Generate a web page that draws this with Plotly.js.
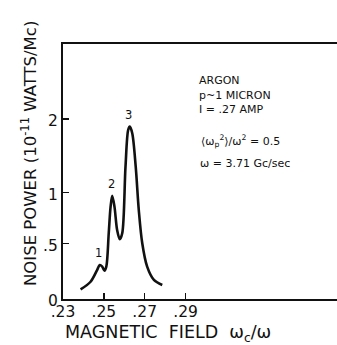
<!DOCTYPE html>
<html><head><meta charset="utf-8">
<script src="https://cdn.plot.ly/plotly-3.0.1.min.js"></script>
<style>html,body{margin:0;padding:0;overflow:hidden;background:#fff;width:337px;height:345px}</style>
</head><body><div id="chart"></div>
<script>
// Magnetic field ratio wc/w (abscissa)
const fieldRatio = [0.2386,0.2435,0.2467,0.2480,0.2492,0.2503,0.2512,0.2524,0.2533,0.2541,0.2552,0.2565,0.2578,0.2590,0.2606,0.2619,0.2627,0.2639,0.2656,0.2671,0.2688,0.2712,0.2745,0.2786];
// Noise power (10^-11 W/Mc)
const noisePower = [0.087,0.155,0.26,0.305,0.29,0.254,0.29,0.602,0.862,0.970,0.862,0.631,0.54,0.599,1.353,1.851,1.896,1.806,1.353,0.829,0.5,0.29,0.171,0.126];

const xTickVals = [0.23,0.25,0.27,0.29];
const xTickText = ['.23','.25','.27','.29'];
const yTickVals = [0,0.5,1,2];
const yTickText = ['0','.5','1','2'];

const xTitle = 'MAGNETIC  FIELD  ω<sub>c</sub>/ω';
const yTitle = 'NOISE POWER (10<sup>-11</sup> WATTS/Mc)';

// peaks labelled 1,2,3 (indices into the series)
const peakNames = ['1','2','3'];
const peakIdx = [3,9,16];

const infoLines = [
  'ARGON',
  'p~1 MICRON',
  'I = .27 AMP',
  '⟨ω<sub>p</sub><sup>2</sup>⟩/ω<sup>2</sup> = 0.5',
  'ω = 3.71 Gc/sec'
];

// The original ordinate is non-uniform: calibration of value -> axis units
const yScaleKnots = [0,0.5,1,2];
const yScalePos = [0,55.7,106.3,180];
function yScale(v){
  for (let i=1;i<yScaleKnots.length;i++){
    if (v<=yScaleKnots[i] || i===yScaleKnots.length-1){
      const a=yScaleKnots[i-1], b=yScaleKnots[i];
      return yScalePos[i-1]+(v-a)/(b-a)*(yScalePos[i]-yScalePos[i-1]);
    }
  }
}

const FONT = 'DejaVu Sans, sans-serif';
const W = 360, H = 345;
const mL = 63, mT = 44, mB = 46;
const plotW = W - mL, plotH = H - mT - mB;
const pxPerUnitX = 40.85/0.02;
const px2paperX = px => (px - mL)/plotW;
const px2paperY = py => (H - mB - py)/plotH;

const trace = {
  x: fieldRatio,
  y: noisePower.map(yScale),
  type: 'scatter', mode: 'lines',
  line: {color: '#111', width: 2.6, shape: 'spline', smoothing: 0.9},
  hoverinfo: 'skip'
};

const annotations = peakIdx.map((k,i)=>({
  x: fieldRatio[k], y: yScale(noisePower[k]), xref:'x', yref:'y',
  text: peakNames[i], showarrow:false, yanchor:'bottom', yshift: 3, xshift: -1,
  font:{family:FONT, size:11.5, color:'#111'}
}));

const infoY = [80.7, 95.3, 110, 140.5, 163];
const infoX = [197, 197, 197, 199, 198];
infoLines.forEach((t,i)=>{
  annotations.push({
    xref:'paper', yref:'paper',
    x:px2paperX(infoX[i]), y:px2paperY(infoY[i]),
    xanchor:'left', yanchor:'middle', showarrow:false,
    text:t, font:{family:FONT, size:11, color:'#111'}
  });
});

// axis titles placed as in the original
annotations.push({
  xref:'paper', yref:'paper', x:px2paperX(168), y:px2paperY(333),
  xanchor:'center', yanchor:'middle', showarrow:false,
  text:xTitle, font:{family:FONT, size:17.5, color:'#111'}
});
annotations.push({
  xref:'paper', yref:'paper', x:px2paperX(29), y:px2paperY(154),
  xanchor:'center', yanchor:'middle', showarrow:false, textangle:-90,
  text:yTitle, font:{family:FONT, size:16.5, color:'#111'}
});

const layout = {
  width: W, height: H,
  margin: {l: mL, r: 0, t: mT, b: mB, pad: 0},
  paper_bgcolor: '#fff', plot_bgcolor: '#fff',
  showlegend: false,
  xaxis: {
    range: [0.23, 0.23 + plotW/pxPerUnitX],
    tickvals: xTickVals, ticktext: xTickText,
    ticks: 'inside', ticklen: 6, tickwidth: 1.5, tickcolor:'#111',
    ticklabelstandoff: -3,
    showline: true, linewidth: 2, linecolor: '#111', mirror: true,
    showgrid: false, zeroline: false,
    tickfont: {family: FONT, size: 15.5, color:'#111'},
    automargin: false
  },
  yaxis: {
    range: [0, plotH],
    tickvals: yTickVals.map(yScale), ticktext: yTickText,
    ticks: 'inside', ticklen: 6, tickwidth: 1.5, tickcolor:'#111',
    ticklabelshift: 2,
    showline: true, linewidth: 2, linecolor: '#111', mirror: true,
    showgrid: false, zeroline: false,
    tickfont: {family: FONT, size: 15.5, color:'#111'},
    automargin: false
  },
  annotations: annotations
};

Plotly.newPlot('chart', [trace], layout, {staticPlot: true, displayModeBar: false});
</script>
</body></html>
